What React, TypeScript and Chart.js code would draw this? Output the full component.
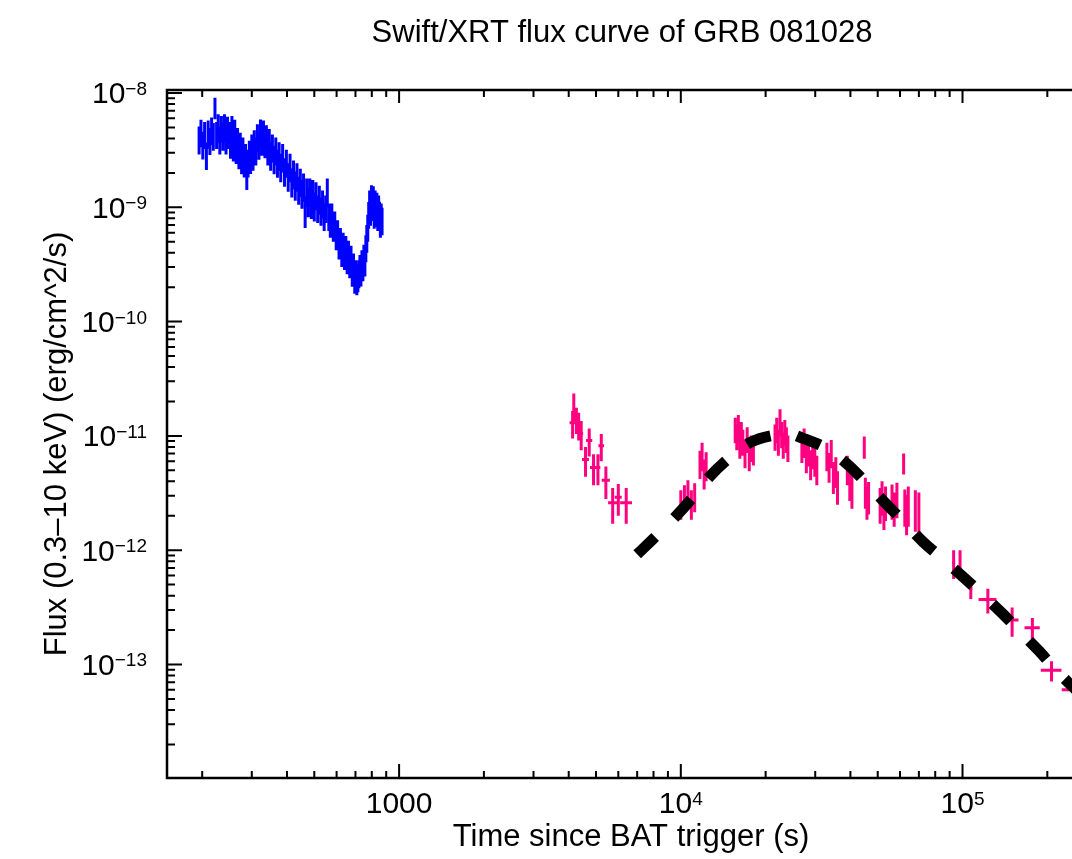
import React, { useEffect, useRef } from 'react';
import { Chart, registerables } from 'chart.js';

Chart.register(...registerables);

// Windowed-timing mode light curve (flux in units of 1e-9 erg/cm^2/s)
const wtTime = [
  195, 198, 201, 204, 207, 210, 213, 216, 219, 222, 225, 228, 231, 234, 237, 240, 243, 246, 249, 252,
  255, 258, 261, 264, 267, 270, 273, 276, 279, 282, 285, 288, 291, 294, 297, 300,
  303, 306, 310, 314, 318, 322, 326, 330, 334, 338, 342, 346, 350, 355, 360, 365, 370, 375, 380,
  386, 392, 398, 404, 410, 416, 422, 428, 434, 440, 446, 452, 458, 464, 470, 476, 482, 488, 494, 500,
  507, 514, 521, 528, 535, 542, 549, 556,
  563, 570, 577, 584, 591, 598, 605, 612, 619, 626, 633, 640, 647, 654, 661, 668, 675, 682, 689, 696,
  702, 708, 714, 720, 726, 732, 738, 744, 750, 756, 762, 768, 774, 780, 786, 792, 798, 804, 810, 816,
  822, 828, 834, 840, 846, 852, 858, 864, 870,
];
const wtFlux = [
  4.0, 4.6, 3.6, 4.4, 2.9, 4.5, 3.9, 4.8, 4.3, 7.5, 4.4, 5.1, 4.0, 5.0, 4.3, 5.1, 4.0, 4.9, 4.4, 3.7,
  5.0, 3.5, 4.6, 3.3, 3.9, 3.0, 3.5, 2.7, 3.2, 2.5, 2.8, 2.0, 2.5, 3.0, 2.7, 3.4,
  2.9, 3.7, 3.2, 4.2, 3.6, 4.6, 3.9, 4.5, 3.7, 4.1, 3.2, 3.8, 2.9, 3.4, 2.7, 3.2, 2.5, 2.9, 2.3,
  2.8, 2.1, 2.5, 1.9, 2.3, 1.7, 2.0, 1.6, 1.9, 1.45, 1.7, 1.35, 1.55, 0.95, 1.4, 1.15, 1.4, 1.1, 1.35, 1.05,
  1.3, 1.0, 1.2, 0.95, 1.1, 0.85, 1.0, 1.4,
  0.85, 0.75, 0.85, 0.68, 0.72, 0.58, 0.6, 0.48, 0.52, 0.42, 0.47, 0.39, 0.44, 0.36, 0.4, 0.33, 0.36, 0.28, 0.31, 0.24,
  0.27, 0.23, 0.25, 0.27, 0.3, 0.28, 0.33, 0.31, 0.37, 0.34, 0.45, 0.55, 0.68, 0.88, 1.1, 0.95, 1.22, 1.05, 1.2, 0.9,
  1.1, 0.92, 1.05, 0.85, 1.0, 0.88, 0.74, 0.85, 0.78,
];
const wtErr = [
  1.1, 1.24, 0.98, 1.17, 0.78, 1.24, 1.04, 1.3, 1.17, 1.6, 1.17, 1.43, 1.1, 1.3, 1.17, 1.43, 1.1, 1.3, 1.17, 1.04,
  1.3, 0.98, 1.24, 0.91, 1.04, 0.85, 0.98, 0.75, 0.88, 0.68, 0.78, 0.58, 0.68, 0.82, 0.74, 0.94,
  0.81, 1.01, 0.88, 1.14, 0.99, 1.25, 1.07, 1.24, 1.01, 1.12, 0.88, 1.04, 0.81, 0.94, 0.75, 0.88, 0.69, 0.81, 0.64,
  0.78, 0.59, 0.69, 0.53, 0.64, 0.48, 0.56, 0.46, 0.53, 0.4, 0.47, 0.38, 0.43, 0.29, 0.39, 0.33, 0.39, 0.31, 0.38, 0.3,
  0.36, 0.27, 0.34, 0.26, 0.3, 0.23, 0.27, 0.39,
  0.23, 0.21, 0.23, 0.18, 0.2, 0.16, 0.17, 0.13, 0.14, 0.12, 0.13, 0.107, 0.12, 0.1, 0.11, 0.09, 0.1, 0.078, 0.085, 0.065,
  0.074, 0.06, 0.069, 0.074, 0.082, 0.077, 0.091, 0.085, 0.1, 0.092, 0.12, 0.15, 0.18, 0.23, 0.3, 0.26, 0.34, 0.29, 0.33, 0.25,
  0.3, 0.25, 0.29, 0.23, 0.27, 0.24, 0.2, 0.23, 0.21,
];

// Photon-counting mode light curve (flux in units of 1e-12 erg/cm^2/s)
const pcTime = [
  4130, 4170, 4260, 4340, 4430, 4590, 4730, 4900, 5080, 5220, 5420, 5730, 6000, 6400,
  10000, 10300, 10600, 10900, 11200,
  11700, 11900, 12100, 12300,
  15600, 15800, 16000, 16200, 16400, 16600, 16900, 17200, 17500, 17800, 18100,
  21600, 21900, 22200, 22500, 22800, 23100, 23400, 23700, 24000,
  26900, 27400, 27900, 28400, 28900, 29400, 29900, 30400,
  33000, 33600, 34200, 34800, 35500, 36000,
  39000, 39800, 40500,
  44800,
  45200, 45800, 46400,
  51000, 51800, 52600, 53300,
  56200, 57200, 58500,
  61800,
  62400, 63300, 64200,
  68000, 70000,
  93000, 98000, 107000, 123000, 150000, 177000, 207000, 255000,
];
const pcFlux = [
  13.0, 18.5, 14.0, 12.5, 10.5, 6.2, 9.1, 5.3, 5.3, 8.2, 4.1, 2.6, 2.9, 2.6,
  2.6, 2.9, 3.2, 2.6, 3.0,
  5.8, 6.8, 4.8, 5.6,
  11.5, 10.0, 12.0, 8.5, 10.5, 9.0, 7.2, 9.5, 6.8, 8.0, 7.5,
  10.0, 11.5, 9.0, 13.5, 10.5, 8.5, 11.0, 9.5, 8.0,
  8.0, 9.0, 6.5, 7.5, 5.8, 7.0, 6.2, 5.2,
  6.8, 5.5, 7.2, 4.5, 5.0, 3.7,
  5.2, 4.0, 3.4,
  8.1,
  3.3, 2.7, 3.0,
  2.6, 3.0, 2.3, 2.7,
  2.8, 2.4, 2.9,
  5.8,
  2.5, 2.2, 2.6,
  2.4, 2.3,
  0.78, 0.78, 0.46, 0.37, 0.245, 0.21, 0.089, 0.06,
];
const pcErr = [
  3.5, 5.0, 3.6, 3.4, 3.0, 1.8, 2.5, 1.6, 1.6, 2.2, 1.3, 0.9, 0.9, 0.9,
  0.75, 0.8, 0.9, 0.75, 0.85,
  1.6, 1.9, 1.4, 1.6,
  2.9, 2.5, 3.2, 2.2, 2.7, 2.3, 2.0, 2.4, 1.9, 2.1, 2.0,
  2.6, 2.9, 2.3, 3.6, 2.7, 2.2, 2.8, 2.4, 2.1,
  2.2, 2.6, 1.8, 2.1, 1.7, 1.9, 1.8, 1.5,
  1.9, 1.6, 2.0, 1.4, 1.5, 1.2,
  1.5, 1.3, 1.1,
  1.8,
  1.0, 0.85, 0.95,
  0.9, 1.0, 0.8, 0.9,
  0.95, 0.8, 1.0,
  1.2,
  0.9, 0.85, 1.0,
  0.95, 0.9,
  0.22, 0.22, 0.085, 0.09, 0.07, 0.045, 0.018, 0.013,
];
const pcHalfBin = [
  100, 50, 60, 100, 70, 130, 120, 140, 100, 120, 180, 210, 170, 310,
  120, 120, 120, 120, 120,
  80, 80, 80, 80,
  80, 80, 80, 80, 80, 80, 100, 100, 100, 100, 100,
  100, 100, 100, 100, 100, 100, 100, 100, 100,
  150, 150, 150, 150, 150, 150, 150, 150,
  200, 200, 200, 200, 200, 200,
  250, 250, 250,
  250,
  250, 250, 250,
  300, 300, 300, 300,
  300, 300, 300,
  300,
  300, 300, 300,
  400, 400,
  1200, 1200, 1500, 9000, 8000, 11000, 17500, 30000,
];

// Fitted afterglow model (flux in units of 1e-12 erg/cm^2/s)
const modelTime = [
  7000, 8100, 9550, 10900, 12600, 14500, 17700, 21600, 24000, 26900, 32800, 39500,
  45200, 53100, 61200, 72500, 85000, 100000, 117000, 138000, 159000, 187000, 216000, 260000,
];
const modelFlux = [
  0.92, 1.3, 1.95, 2.8, 4.35, 6.1, 8.8, 10.2, 10.5, 9.6, 7.8, 5.5,
  3.95, 2.6, 1.82, 1.18, 0.84, 0.59, 0.415, 0.282, 0.197, 0.131, 0.088, 0.056,
];

// Axis labelling
const xTickValues = [1000, 1e4, 1e5];
const xTickBase = ['1000', '10', '10'];
const xTickExp = ['', '4', '5'];
const yTickValues = [1e-8, 1e-9, 1e-10, 1e-11, 1e-12, 1e-13];
const yTickBase = ['10', '10', '10', '10', '10', '10'];
const yTickExp = ['\u22128', '\u22129', '\u221210', '\u221211', '\u221212', '\u221213'];

const TITLE = 'Swift/XRT flux curve of GRB 081028';
const X_TITLE = 'Time since BAT trigger (s)';
const Y_TITLE = 'Flux (0.3\u201310 keV) (erg/cm^2/s)';

const X_MIN = 150;
const X_MAX = 2.447e5;
const Y_MIN = 1.016e-14;
const Y_MAX = 1.062e-8;

const FONT = '"Liberation Sans", Arial, Helvetica, sans-serif';
const MAIN_PX = 30;
const SUP_PX = 19;
const TITLE_PX = 31;

const WT_COLOR = '#0000ff';
const PC_COLOR = '#ff0080';

function neighbourHalfGaps(t: number[]) {
  const lo: number[] = [];
  const hi: number[] = [];
  for (let i = 0; i < t.length; i++) {
    const prev = i > 0 ? t[i] - t[i - 1] : t[1] - t[0];
    const next = i < t.length - 1 ? t[i + 1] - t[i] : prev;
    lo.push(prev / 2);
    hi.push(next / 2);
  }
  return { lo, hi };
}

function logTicks(min: number, max: number) {
  const out: { v: number; major: boolean }[] = [];
  const d0 = Math.floor(Math.log10(min));
  const d1 = Math.ceil(Math.log10(max));
  for (let d = d0; d <= d1; d++) {
    for (let m = 1; m <= 9; m++) {
      const v = m * Math.pow(10, d);
      if (v >= min && v <= max) out.push({ v, major: m === 1 });
    }
  }
  return out;
}

const errorBarPlugin = {
  id: 'errorBars',
  beforeDatasetsDraw(chart: any) {
    const { ctx, chartArea: a, scales } = chart;
    const xs = scales.x;
    const ys = scales.y;
    ctx.save();
    ctx.beginPath();
    ctx.rect(a.left, a.top, a.right - a.left, a.bottom - a.top);
    ctx.clip();
    chart.data.datasets.forEach((ds: any) => {
      const eb = ds.errorBars;
      if (!eb) return;
      ctx.strokeStyle = eb.color;
      ctx.lineWidth = eb.width;
      ctx.lineCap = 'butt';
      ctx.beginPath();
      ds.data.forEach((p: { x: number; y: number }, i: number) => {
        const px = xs.getPixelForValue(p.x);
        const py = ys.getPixelForValue(p.y);
        const yHi = ys.getPixelForValue(p.y + eb.err[i]);
        const yLo = ys.getPixelForValue(Math.max(p.y - eb.err[i], Y_MIN * 0.1));
        ctx.moveTo(px, yHi);
        ctx.lineTo(px, yLo);
        const xL = xs.getPixelForValue(p.x - eb.dxLo[i]);
        const xR = xs.getPixelForValue(p.x + eb.dxHi[i]);
        ctx.moveTo(xL, py);
        ctx.lineTo(xR, py);
      });
      ctx.stroke();
    });
    ctx.restore();
  },
};

function drawPower(
  ctx: CanvasRenderingContext2D,
  base: string,
  exp: string,
  x: number,
  baseline: number,
  align: 'center' | 'right',
  supRise: number,
) {
  ctx.textAlign = 'left';
  ctx.textBaseline = 'alphabetic';
  ctx.font = `${MAIN_PX}px ${FONT}`;
  const wb = ctx.measureText(base).width;
  ctx.font = `${SUP_PX}px ${FONT}`;
  const we = exp ? ctx.measureText(exp).width : 0;
  const total = wb + we;
  const x0 = align === 'center' ? x - total / 2 : x - total;
  ctx.font = `${MAIN_PX}px ${FONT}`;
  ctx.fillText(base, x0, baseline);
  if (exp) {
    ctx.font = `${SUP_PX}px ${FONT}`;
    ctx.fillText(exp, x0 + wb, baseline - supRise);
  }
}

const framePlugin = {
  id: 'frame',
  afterDraw(chart: any) {
    const { ctx, chartArea: a, scales } = chart;
    const xs = scales.x;
    const ys = scales.y;
    ctx.save();
    ctx.strokeStyle = '#000';
    ctx.fillStyle = '#000';

    // frame
    ctx.lineWidth = 2.5;
    ctx.lineCap = 'butt';
    ctx.beginPath();
    ctx.moveTo(a.left - 1.25, a.top);
    ctx.lineTo(a.right + 5, a.top);
    ctx.moveTo(a.left, a.top - 1.25);
    ctx.lineTo(a.left, a.bottom + 1.25);
    ctx.moveTo(a.left - 1.25, a.bottom);
    ctx.lineTo(a.right + 5, a.bottom);
    ctx.stroke();

    // inward ticks
    ctx.lineWidth = 2;
    ctx.beginPath();
    logTicks(ys.min, ys.max).forEach(({ v, major }) => {
      const py = ys.getPixelForValue(v);
      ctx.moveTo(a.left, py);
      ctx.lineTo(a.left + (major ? 15 : 8), py);
    });
    logTicks(xs.min, xs.max).forEach(({ v, major }) => {
      const px = xs.getPixelForValue(v);
      ctx.moveTo(px, a.bottom);
      ctx.lineTo(px, a.bottom - (major ? 14 : 7));
      ctx.moveTo(px, a.top);
      ctx.lineTo(px, a.top + (major ? 13 : 7));
    });
    ctx.stroke();

    // tick labels
    yTickValues.forEach((v, i) => {
      const py = ys.getPixelForValue(v);
      drawPower(ctx, yTickBase[i], yTickExp[i], 147, py + 10.5, 'right', 8.5);
    });
    xTickValues.forEach((v, i) => {
      const px = xs.getPixelForValue(v);
      drawPower(ctx, xTickBase[i], xTickExp[i], px, a.bottom + 34.5, 'center', 7.5);
    });

    // titles
    ctx.font = `${TITLE_PX}px ${FONT}`;
    ctx.textAlign = 'center';
    ctx.textBaseline = 'alphabetic';
    ctx.fillText(TITLE, 622, 42);
    ctx.fillText(X_TITLE, 631, 846);
    ctx.translate(66, 444);
    ctx.rotate(-Math.PI / 2);
    ctx.fillText(Y_TITLE, 0, 0);
    ctx.restore();
  },
};

export default function App() {
  const canvasRef = useRef<HTMLCanvasElement>(null);

  useEffect(() => {
    const canvas = canvasRef.current;
    if (!canvas) return;

    const wtGaps = neighbourHalfGaps(wtTime);
    const wtData = wtTime.map((t, i) => ({ x: t, y: wtFlux[i] * 1e-9 }));
    const pcData = pcTime.map((t, i) => ({ x: t, y: pcFlux[i] * 1e-12 }));
    const modelData = modelTime.map((t, i) => ({ x: t, y: modelFlux[i] * 1e-12 }));

    const chart = new Chart(canvas, {
      type: 'scatter',
      data: {
        datasets: [
          {
            label: 'WT',
            data: wtData,
            pointRadius: 0,
            showLine: false,
            errorBars: {
              color: WT_COLOR,
              width: 3,
              err: wtErr.map((e) => e * 1e-9),
              dxLo: wtGaps.lo,
              dxHi: wtGaps.hi,
            },
          } as any,
          {
            label: 'PC',
            data: pcData,
            pointRadius: 0,
            showLine: false,
            errorBars: {
              color: PC_COLOR,
              width: 3,
              err: pcErr.map((e) => e * 1e-12),
              dxLo: pcHalfBin,
              dxHi: pcHalfBin,
            },
          } as any,
          {
            type: 'line',
            label: 'model',
            data: modelData,
            showLine: true,
            borderColor: '#000000',
            borderWidth: 11,
            borderDash: [25, 27],
            borderCapStyle: 'butt',
            pointRadius: 0,
            fill: false,
            cubicInterpolationMode: 'monotone',
          } as any,
        ],
      },
      options: {
        responsive: false,
        animation: false,
        devicePixelRatio: 1,
        events: [],
        layout: { padding: { left: 167, top: 90, right: 0, bottom: 81 } },
        plugins: {
          legend: { display: false },
          tooltip: { enabled: false },
          title: { display: false },
        },
        scales: {
          x: { type: 'logarithmic', min: X_MIN, max: X_MAX, display: false },
          y: { type: 'logarithmic', min: Y_MIN, max: Y_MAX, display: false },
        },
      },
      plugins: [errorBarPlugin, framePlugin],
    } as any);

    return () => chart.destroy();
  }, []);

  return (
    <div
      style={{
        position: 'absolute',
        left: 0,
        top: 0,
        width: 1072,
        height: 859,
        background: '#ffffff',
        overflow: 'hidden',
      }}
    >
      <canvas ref={canvasRef} width={1072} height={859} style={{ display: 'block' }} />
    </div>
  );
}
